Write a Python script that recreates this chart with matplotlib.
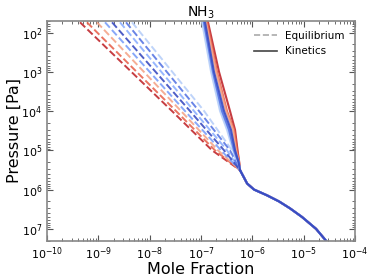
import matplotlib
matplotlib.use("Agg")
import matplotlib.pyplot as plt
from matplotlib.lines import Line2D

plt.rcParams['mathtext.default'] = 'regular'

# pressure levels [Pa]
p_eq = [55, 1e4, 1e5, 3.2e5]
p_kin = [55, 1e3, 1e4, 3e4, 1e5, 2e5, 3.2e5]
p_deep = [3.2e5, 5e5, 7e5, 1e6, 1.4e6, 2e6, 3e6, 5e6, 1e7, 2e7]

colors = ['#c0282d', '#e8644f', '#f4a58a', '#7b9ff9', '#8db0fe', '#b7cff9', '#5977e3', '#3b4cc0']

# equilibrium mole fractions (one list per model)
eq0 = [4.4e-10, 2.72e-8, 1.64e-7, 5.75e-7]
eq1 = [6.0e-10, 3.26e-8, 1.87e-7, 5.75e-7]
eq2 = [9.4e-10, 4.08e-8, 2.14e-7, 5.75e-7]
eq3 = [1.35e-9, 4.88e-8, 2.45e-7, 5.75e-7]
eq4 = [2.64e-9, 7.31e-8, 3.21e-7, 5.75e-7]
eq5 = [4.53e-9, 1.15e-7, 4.02e-7, 5.75e-7]
eq6 = [3.46e-9, 9.14e-8, 3.67e-7, 5.75e-7]
eq7 = [1.85e-9, 6.11e-8, 2.81e-7, 5.75e-7]

# kinetics mole fractions
kin0 = [1.37e-7, 2.24e-7, 3.67e-7, 4.60e-7, 5.15e-7, 5.55e-7, 5.75e-7]
kin1 = [1.31e-7, 2.05e-7, 3.21e-7, 4.39e-7, 5.03e-7, 5.50e-7, 5.75e-7]
kin2 = [1.25e-7, 1.96e-7, 3.07e-7, 4.20e-7, 4.81e-7, 5.45e-7, 5.75e-7]
kin3 = [1.14e-7, 1.71e-7, 2.68e-7, 3.67e-7, 4.60e-7, 5.40e-7, 5.75e-7]
kin4 = [1.09e-7, 1.64e-7, 2.45e-7, 3.36e-7, 4.39e-7, 5.35e-7, 5.75e-7]
kin5 = [1.05e-7, 1.57e-7, 2.35e-7, 3.21e-7, 4.20e-7, 5.30e-7, 5.75e-7]
kin6 = [1.14e-7, 1.71e-7, 2.57e-7, 3.51e-7, 4.39e-7, 5.35e-7, 5.75e-7]
kin7 = [1.20e-7, 1.79e-7, 2.81e-7, 3.84e-7, 4.60e-7, 5.40e-7, 5.75e-7]

# deep atmosphere (all models agree)
x_deep = [5.75e-7, 6.9e-7, 7.9e-7, 1.08e-6, 1.93e-6, 3.3e-6, 5.4e-6, 9.3e-6, 1.74e-5, 2.72e-5]

eqs = [eq0, eq1, eq2, eq3, eq4, eq5, eq6, eq7]
kins = [kin0, kin1, kin2, kin3, kin4, kin5, kin6, kin7]

fig = plt.figure(figsize=(3.74, 2.8), dpi=100)
ax = fig.add_axes([0.1257, 0.1404, 0.8236, 0.7857])

for c, e in zip(colors, eqs):
    ax.plot(e, p_eq, ls='--', color=c, lw=1.4, alpha=0.9)
for c, k in zip(colors, kins):
    ax.plot(k, p_kin, ls='-', color=c, lw=1.5, alpha=0.9)
    ax.plot(x_deep, p_deep, ls='-', color=c, lw=1.5)

ax.set_xscale('log')
ax.set_yscale('log')
ax.set_xlim(1e-10, 1e-4)
ax.set_ylim(2e7, 50)

ax.tick_params(which='both', direction='in', top=True, right=True, labelsize=8, colors='#555555', labelcolor='black')
ax.tick_params(which='major', length=4)
ax.tick_params(which='minor', length=2)
for s in ax.spines.values():
    s.set_color('#888888')
    s.set_linewidth(1.2)

ax.set_xlabel('Mole Fraction', fontsize=11.5, labelpad=0)
ax.set_ylabel('Pressure [Pa]', fontsize=11.5, labelpad=0)
ax.set_title('NH$_3$', fontsize=10, pad=2)

handles = [Line2D([], [], ls='--', color='#aaaaaa', lw=1.2),
           Line2D([], [], ls='-', color='#444444', lw=1.2)]
ax.legend(handles, ['Equilibrium', 'Kinetics'], loc='upper right', frameon=False, fontsize=7.5,
          handlelength=2.2, borderaxespad=0.6)

fig.savefig('out.png', dpi=100)
